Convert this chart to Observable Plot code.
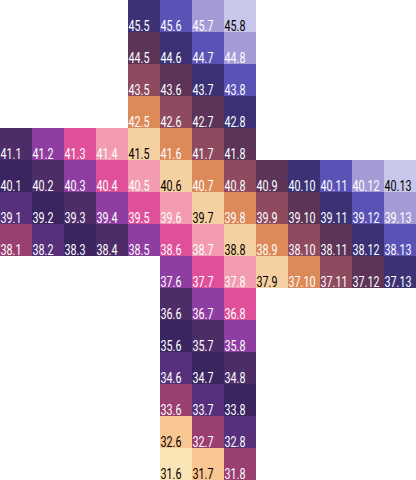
<!DOCTYPE html>
<html>
<head>
<meta charset="utf-8">
<script src="https://cdn.jsdelivr.net/npm/d3@7"></script>
<script src="https://cdn.jsdelivr.net/npm/@observablehq/plot@0.6"></script>
<style>
  html, body { margin: 0; padding: 0; background: #fff; }
  #chart svg { display: block; }
</style>
</head>
<body>
<div id="chart"></div>
<script>
// Row identifiers, top to bottom
const rowIds = [45, 44, 43, 42, 41, 40, 39, 38, 37, 36, 35, 34, 33, 32, 31];
// Column of the first cell in each row
const firstCol = [5, 5, 5, 5, 1, 1, 1, 1, 6, 6, 6, 6, 6, 6, 6];
// Colour tone of each cell, per row, left to right
const tones = [
  [13, 14, 15, 16],
  [12, 13, 14, 15],
  [11, 12, 13, 14],
  [10, 11, 12, 13],
  [5, 6, 7, 8, 9, 10, 11, 12],
  [4, 5, 6, 7, 8, 9, 10, 11, 12, 13, 14, 15, 16],
  [3, 4, 5, 6, 7, 8, 9, 10, 11, 12, 13, 14, 15],
  [2, 3, 4, 5, 6, 7, 8, 9, 10, 11, 12, 13, 14],
  [6, 7, 8, 9, 10, 11, 12, 13],
  [5, 6, 7],
  [4, 5, 6],
  [3, 4, 5],
  [2, 3, 4],
  [1, 2, 3],
  [0, 1, 2]
];
const columns = [1, 2, 3, 4, 5, 6, 7, 8, 9, 10, 11, 12, 13];
const toneDomain = [0, 1, 2, 3, 4, 5, 6, 7, 8, 9, 10, 11, 12, 13, 14, 15, 16];
const palette = [
  "#f8e4b4", "#f9c590", "#9a4070", "#56307a", "#3b2560", "#4d2d68",
  "#8e3ea0", "#e0509a", "#f39bb0", "#f5d1a2", "#dd8a5a", "#8e4a5e",
  "#5b3458", "#3a3275", "#5a52b5", "#a39bd6", "#c9c6ec"
];
const darkTextTones = [0, 1, 9, 16];

const cells = [];
rowIds.forEach((r, i) => {
  tones[i].forEach((t, j) => {
    const c = firstCol[i] + j;
    cells.push({row: r, col: c, tone: t, label: `${r}.${c}`});
  });
});

const chart = Plot.plot({
  width: 416,
  height: 480,
  margin: 0,
  x: {type: "band", domain: columns, padding: 0, axis: null},
  y: {type: "band", domain: rowIds, padding: 0, axis: null},
  color: {type: "ordinal", domain: toneDomain, range: palette},
  marks: [
    Plot.cell(cells, {x: "col", y: "row", fill: "tone"}),
    Plot.text(cells, {
      x: "col", y: "row", text: "label",
      textAnchor: "start", lineAnchor: "bottom",
      dx: -16, dy: 14,
      fontSize: 14.5,
      fontFamily: "Roboto, 'DejaVu Sans', sans-serif",
      fill: d => darkTextTones.includes(d.tone) ? "black" : "white"
    })
  ]
});
// condense the labels horizontally, like the narrow face of the original
d3.select(chart).selectAll("g[aria-label='text'] text").each(function() {
  const t = this.getAttribute("transform") || "";
  this.setAttribute("transform", (t + " scale(0.74,1)").trim());
});
document.getElementById("chart").append(chart);
</script>
</body>
</html>
